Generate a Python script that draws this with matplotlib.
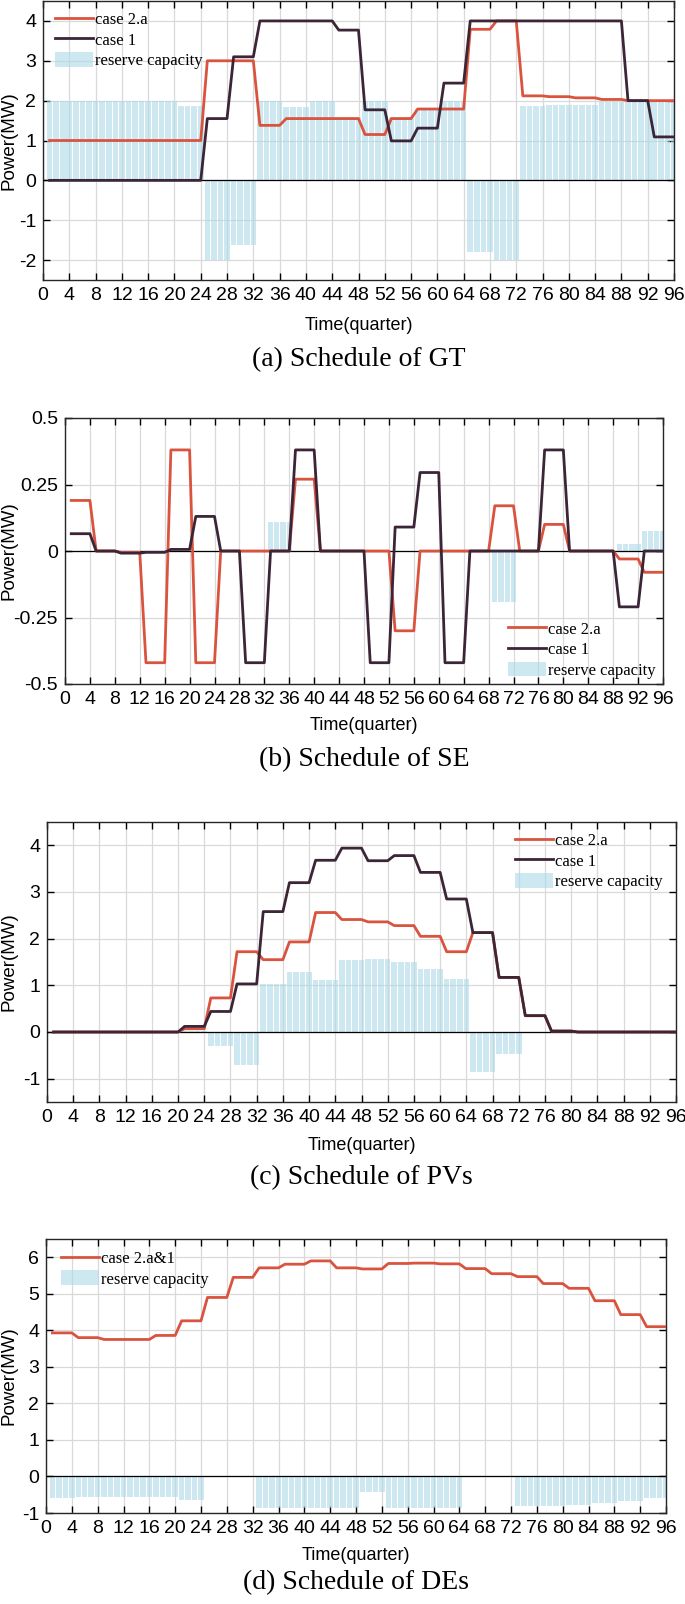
import numpy as np
import matplotlib.pyplot as plt

# hourly values, each held for 4 quarters
quarters = np.arange(1, 97)

gt_case2a = [1.0, 1.0, 1.0, 1.0, 1.0, 1.0, 3.0, 3.0, 1.38, 1.55, 1.55, 1.55,
             1.15, 1.55, 1.79, 1.79, 3.79, 4.0, 2.12, 2.1, 2.07, 2.03, 2.0, 2.0]
gt_case1 = [0, 0, 0, 0, 0, 0, 1.55, 3.1, 4.0, 4.0, 4.0, 3.77,
            1.77, 0.99, 1.31, 2.44, 4.0, 4.0, 4.0, 4.0, 4.0, 4.0, 2.0, 1.09]
gt_reserve = [2.0, 2.0, 2.0, 2.0, 2.0, 1.87, -2.0, -1.63, 2.0, 1.83, 2.0, 1.6,
              2.0, 1.6, 1.78, 2.0, -1.81, -2.0, 1.87, 1.88, 1.9, 1.97, 2.0, 2.0]

se_case2a = [0.19, 0, -0.005, -0.42, 0.38, -0.42, 0, 0, 0, 0.27, 0, 0,
             0, -0.30, 0, 0, 0, 0.17, 0, 0.10, 0, 0, -0.03, -0.08]
se_case1 = [0.065, 0, -0.008, -0.005, 0.006, 0.13, 0, -0.42, 0, 0.38, 0, 0,
            -0.42, 0.09, 0.295, -0.42, 0, 0, 0, 0.38, 0, 0, -0.21, 0]
se_reserve = [0, 0, 0, 0, 0, 0, 0, 0, 0.11, 0, 0, 0,
              0, 0, 0, 0, 0, -0.19, 0, 0, 0, 0, 0.025, 0.075]

pv_case2a = [0, 0, 0, 0, 0, 0.07, 0.73, 1.72, 1.55, 1.93, 2.56, 2.41,
             2.36, 2.28, 2.05, 1.72, 2.13, 1.17, 0.35, 0.02, 0, 0, 0, 0]
pv_case1 = [0, 0, 0, 0, 0, 0.12, 0.44, 1.03, 2.58, 3.2, 3.68, 3.94,
            3.67, 3.78, 3.42, 2.85, 2.13, 1.17, 0.35, 0.02, 0, 0, 0, 0]
pv_reserve = [0, 0, 0, 0, 0, 0.03, -0.31, -0.7, 1.03, 1.28, 1.12, 1.54,
              1.56, 1.5, 1.36, 1.14, -0.86, -0.47, 0, 0, 0, 0, 0, 0]

de_output = [3.93, 3.8, 3.75, 3.75, 3.86, 4.26, 4.9, 5.45, 5.71, 5.81, 5.9, 5.71,
             5.68, 5.83, 5.84, 5.82, 5.69, 5.55, 5.47, 5.28, 5.15, 4.81, 4.43, 4.1]
de_reserve = [-0.58, -0.56, -0.56, -0.56, -0.56, -0.64, 0, 0, -0.85, -0.87, -0.87, -0.85,
              -0.43, -0.87, -0.87, -0.86, 0, 0, -0.82, -0.8, -0.78, -0.72, -0.66, -0.6]

xticks = list(range(0, 97, 4))

RED = '#d9533f'
DARK = '#3c2536'
BLUE = (0.68, 0.85, 0.90)

W, H = 685, 1604
plt.rcParams['font.family'] = ['Liberation Sans', 'DejaVu Sans']
fig = plt.figure(figsize=(W / 100, H / 100), dpi=100)


def per_quarter(hourly):
    return np.repeat(hourly, 4)


def draw_panel(box, lines, reserve, ylim, yticks, yticklabels, legend, title, xlabel_y, title_y):
    left, top, right, bottom = box
    ax = fig.add_axes([left / W, 1 - bottom / H, (right - left) / W, (bottom - top) / H])
    ax.bar(quarters, per_quarter(reserve), width=0.85, color=BLUE, alpha=0.6,
           linewidth=0, label='reserve capacity', zorder=2)
    ax.axhline(0, color='k', lw=0.9, zorder=3)
    handles = []
    for values, color, label in lines:
        h, = ax.plot(quarters, per_quarter(values), color=color, lw=2, label=label, zorder=4)
        handles.append(h)
    bars = ax.containers[0]
    ax.set_xlim(0, 96)
    ax.set_ylim(*ylim)
    ax.set_xticks(xticks)
    ax.set_yticks(yticks)
    ax.set_yticklabels(yticklabels)
    ax.grid(True, color='0.85', lw=0.9, zorder=0)
    ax.set_axisbelow(True)
    ax.tick_params(direction='in', top=True, right=True, length=5, width=1,
                   labelsize=14, pad=5)
    for s in ax.spines.values():
        s.set_linewidth(1.0)
        s.set_color('0.15')
    ax.set_ylabel('Power(MW)', fontsize=13.5, va='center')
    ax.yaxis.set_label_coords((9 - left) / (right - left), 0.5)
    ax.set_xlabel('Time(quarter)', fontsize=13, va='center')
    ax.xaxis.set_label_coords(0.5, -(xlabel_y - bottom) / (bottom - top))
    loc, anchor = legend
    ax.legend(handles + [bars], [h.get_label() for h in handles] + ['reserve capacity'],
              loc=loc, bbox_to_anchor=anchor, frameon=False,
              prop={'family': 'Liberation Serif', 'size': 12},
              handlelength=2.3, handleheight=1.0, handletextpad=0.1,
              labelspacing=0.2, borderpad=0, borderaxespad=0)
    fig.text((left + right) / 2 / W, 1 - title_y / H, title, ha='center', va='center',
             family='Liberation Serif', fontsize=20)
    return ax


draw_panel((43, 1, 674, 280),
           [(gt_case2a, RED, 'case 2.a'), (gt_case1, DARK, 'case 1')],
           gt_reserve, (-2.5, 4.5), range(-2, 5), [str(v) for v in range(-2, 5)],
           ('upper left', (0.019, 0.964)), '(a) Schedule of GT', 325, 360)

draw_panel((65, 418, 663, 684),
           [(se_case2a, RED, 'case 2.a'), (se_case1, DARK, 'case 1')],
           se_reserve, (-0.5, 0.5), [-0.5, -0.25, 0, 0.25, 0.5],
           ['-0.5', '-0.25', '0', '0.25', '0.5'],
           ('lower right', (0.987, 0.02)), '(b) Schedule of SE', 725, 760)

draw_panel((47, 822, 676, 1102),
           [(pv_case2a, RED, 'case 2.a'), (pv_case1, DARK, 'case 1')],
           pv_reserve, (-1.5, 4.5), range(-1, 5), [str(v) for v in range(-1, 5)],
           ('upper right', (0.979, 0.964)), '(c) Schedule of PVs', 1145, 1178)

draw_panel((46, 1239, 666, 1513),
           [(de_output, RED, 'case 2.a&1')],
           de_reserve, (-1, 6.5), range(-1, 7), [str(v) for v in range(-1, 7)],
           ('upper left', (0.024, 0.96)), '(d) Schedule of DEs', 1555, 1583)

fig.savefig('out.png', dpi=100)
